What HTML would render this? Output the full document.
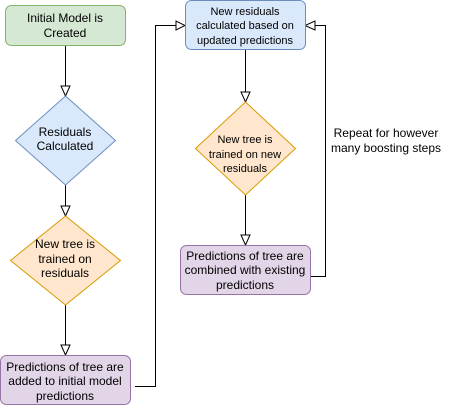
<!DOCTYPE html>
<html><head><style>
html,body{margin:0;padding:0;background:#fff;}
svg{display:block;}
text{font-family:"Liberation Sans",sans-serif;fill:#000;text-anchor:middle;}
</style></head><body>
<svg width="476" height="406" viewBox="0 0 476 406" xmlns="http://www.w3.org/2000/svg">
<g stroke="#000" stroke-width="1" fill="none">
<line x1="65.5" y1="45" x2="65.5" y2="86"/>
<line x1="65.5" y1="185" x2="65.5" y2="206"/>
<line x1="65.5" y1="305" x2="65.5" y2="345"/>
<polyline points="135,386.5 155.5,386.5 155.5,25.5 176,25.5"/>
<line x1="245.5" y1="50" x2="245.5" y2="92"/>
<line x1="245.5" y1="195" x2="245.5" y2="235"/>
<polyline points="310,276.5 325.5,276.5 325.5,25.5 315,25.5"/>
</g>
<g stroke="#000" stroke-width="1" fill="#fff">
<polygon points="61,86 70,86 65.5,96"/>
<polygon points="61,206 70,206 65.5,216"/>
<polygon points="61,345 70,345 65.5,355"/>
<polygon points="176,21 176,30 185,25.5"/>
<polygon points="241,92 250,92 245.5,102"/>
<polygon points="241,235 250,235 245.5,245"/>
<polygon points="315,21 315,30 305,25.5"/>
</g>
<rect x="5.5" y="5.5" width="120" height="40" rx="6" fill="#d5e8d4" stroke="#82b366"/>
<polygon points="65.5,96 115.5,140.5 65.5,185 15.5,140.5" fill="#dae8fc" stroke="#6c8ebf"/>
<polygon points="65.5,216 120.5,260.5 65.5,305 10.5,260.5" fill="#ffe6cc" stroke="#d79b00"/>
<rect x="0.5" y="355.5" width="130" height="49" rx="6" fill="#e1d5e7" stroke="#9673a6"/>
<rect x="185.5" y="0.5" width="120" height="49" rx="6" fill="#dae8fc" stroke="#6c8ebf"/>
<polygon points="245.5,102 295.5,148.5 245.5,195 195.5,148.5" fill="#ffe6cc" stroke="#d79b00"/>
<rect x="180.5" y="245.5" width="130" height="49" rx="6" fill="#e1d5e7" stroke="#9673a6"/>
<g font-size="12">
<text x="65" y="22">Initial Model is</text>
<text x="65" y="37">Created</text>
<text x="65" y="136">Residuals</text>
<text x="65" y="150">Calculated</text>
<text x="65" y="248">New tree is</text>
<text x="65" y="263">trained on</text>
<text x="65" y="277">residuals</text>
<text x="65" y="371">Predictions of tree are</text>
<text x="65" y="385">added to initial model</text>
<text x="65" y="400">predictions</text>
<text x="245" y="260">Predictions of tree are</text>
<text x="245" y="274">combined with existing</text>
<text x="245" y="289">predictions</text>
<text x="386" y="137">Repeat for however</text>
<text x="386" y="152">many boosting steps</text>
</g>
<g font-size="11">
<text x="245" y="15">New residuals</text>
<text x="245" y="29">calculated based on</text>
<text x="245" y="44">updated predictions</text>
<text x="245" y="143">New tree is</text>
<text x="245" y="158">trained on new</text>
<text x="245" y="172">residuals</text>
</g>
</svg>
</body></html>
